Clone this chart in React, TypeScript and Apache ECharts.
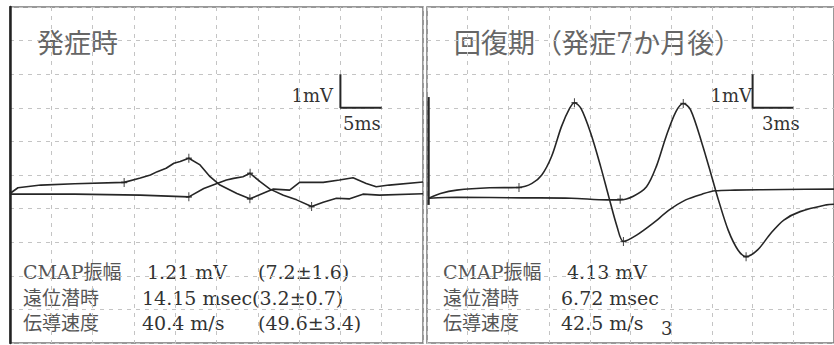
import React, { useEffect, useRef } from "react";
import * as echarts from "echarts";

// ---- Data (time in ms, amplitude in mV) ----
const leftTitle = "発症時";
const rightTitle = "回復期（発症7か月後）";

const leftDistal: [number, number][] = [
  [0, -0.55], [0.96, -0.38], [3.73, -0.3], [7.83, -0.26], [13.82, -0.22],
  [15.78, -0.09], [17.0, 0.0], [17.83, 0.1], [18.9, 0.2], [19.84, 0.35],
  [20.6, 0.4], [21.65, 0.5], [23.01, 0.3], [24.22, -0.05], [25.42, -0.3],
  [27.47, -0.55], [29.04, -0.71], [31.08, -0.5], [31.89, -0.42], [33.86, -0.45],
  [35.06, -0.22], [37.92, -0.22], [39.88, -0.15], [41.53, -0.08], [43.13, -0.25],
  [44.34, -0.35], [45.9, -0.3], [50, -0.21],
];
const leftProximal: [number, number][] = [
  [0, -0.57], [7.83, -0.57], [15.78, -0.6], [21.65, -0.65], [23.46, -0.4],
  [25.06, -0.25], [26.2, -0.15], [27.07, -0.1], [28.2, -0.05], [29.07, 0.05],
  [30.28, -0.2], [31.48, -0.42], [33.1, -0.6], [34.7, -0.74], [36.51, -0.94],
  [37.92, -0.81], [39.52, -0.69], [41.12, -0.71], [42.73, -0.57], [44.73, -0.6],
  [50, -0.56],
];
const leftMarks: [number, number][] = [
  [13.82, -0.22], [21.65, 0.5], [29.04, -0.71],
  [21.65, -0.65], [29.07, 0.05], [36.51, -0.94],
];

const rightDistal: [number, number][] = [
  [0.14, -0.69], [0.99, -0.55], [2.19, -0.45], [4.61, -0.38], [6.78, -0.37],
  [7.74, -0.25], [8.46, 0.0], [9.18, 0.55], [9.91, 1.44], [10.51, 1.98],
  [10.87, 2.15], [11.35, 1.98], [12.07, 1.24], [12.8, 0.25], [13.4, -0.65],
  [14.01, -1.54], [14.48, -1.98], [15.45, -1.79], [16.65, -1.44], [17.86, -1.04],
  [19.07, -0.74], [20.27, -0.57], [21.24, -0.47], [22.68, -0.45], [26.3, -0.43],
  [30, -0.42],
];
const rightProximal: [number, number][] = [
  [0.14, -0.69], [2.19, -0.66], [7.01, -0.68], [10.63, -0.69], [13.28, -0.74],
  [14.24, -0.74], [15.21, -0.63], [16.18, -0.35], [16.9, 0.25], [17.62, 1.14],
  [18.34, 1.88], [18.89, 2.13], [19.43, 1.94], [20.27, 0.94], [20.99, -0.05],
  [21.48, -0.74], [22.2, -1.64], [22.92, -2.23], [23.52, -2.43], [24.37, -2.23],
  [25.33, -1.74], [26.3, -1.34], [27.5, -1.09], [29.43, -0.89], [30, -0.87],
];
const rightArtifact: [number, number][] = [[0.12, 2.32], [0.12, -0.89]];
const rightMarks: [number, number][] = [
  [6.78, -0.37], [10.87, 2.15], [14.48, -1.98],
  [14.24, -0.72], [18.89, 2.13], [23.52, -2.43],
];

// scale bars: 1 mV vertical, 5 ms / 3 ms horizontal
const leftScaleBar: [number, number][] = [[40, 3], [40, 2], [45, 2]];
const rightScaleBar: [number, number][] = [[24, 3], [24, 2], [27, 2]];
const leftScaleLabels = ["1mV", "5ms"];
const rightScaleLabels = ["1mV", "3ms"];

const statLabels = ["CMAP振幅", "遠位潜時", "伝導速度"];
const leftStatValues = ["1.21 mV", "14.15 msec", "40.4 m/s"];
const leftStatNormals = ["(7.2±1.6)", "(3.2±0.7)", "(49.6±3.4)"];
const rightStatValues = ["4.13 mV", "6.72 msec", "42.5 m/s"];
const rightStatExtra = "3";

// ---- Styles / layout ----
const SERIF = "DejaVu Serif, Noto Sans CJK JP, serif";
const TRACE = "#262626";
const rowY = [272, 297.5, 323];
const leftValX = [147, 142, 142];
const leftNormX = [258, 252, 258];
const rightValX = [567, 561, 561];

function text(x: number, y: number, t: string, size: number, fill: string, align = "left", weight = "normal") {
  return {
    type: "text",
    x,
    y,
    silent: true,
    style: { text: t, fontSize: size, fontFamily: SERIF, fontWeight: weight, fill, align, verticalAlign: "middle" },
  };
}

const splitLine = { show: true, lineStyle: { color: "#c4c4c4", type: [4, 5], width: 1 } };

function xAxis(grid: number, max: number, interval: number) {
  return {
    type: "value", gridIndex: grid, min: 0, max, interval,
    axisLine: { show: false }, axisTick: { show: false }, axisLabel: { show: false },
    splitLine,
  };
}
function yAxis(grid: number, thick: boolean) {
  return {
    type: "value", gridIndex: grid, min: -5, max: 5, interval: 1,
    axisLine: { show: thick, lineStyle: { color: "#222", width: 2.5 } },
    axisTick: { show: false }, axisLabel: { show: false },
    splitLine,
  };
}
function line(data: [number, number][], idx: number, width = 1.6, smooth: number | boolean = false) {
  return {
    type: "line", data, xAxisIndex: idx, yAxisIndex: idx, symbol: "none", smooth,
    lineStyle: { color: TRACE, width }, silent: true, z: 3,
  };
}
function marks(data: [number, number][], idx: number) {
  return {
    type: "scatter", data, xAxisIndex: idx, yAxisIndex: idx,
    symbol: "path://M5 0 L5 10 M1 5 L9 5", symbolSize: [6, 9],
    itemStyle: { color: "none", borderColor: TRACE, borderWidth: 1.3 }, silent: true, z: 4,
  };
}

const option: any = {
  animation: false,
  backgroundColor: "#fff",
  grid: [
    { left: 10, top: 7, width: 413, height: 336, show: true, borderColor: "#777", borderWidth: 1.5 },
    { left: 427, top: 7, width: 415, height: 336, show: true, borderColor: "#777", borderWidth: 1.5 },
  ],
  xAxis: [xAxis(0, 50, 5), xAxis(1, 30, 3)],
  yAxis: [yAxis(0, true), yAxis(1, false)],
  series: [
    line(leftDistal, 0),
    line(leftProximal, 0),
    marks(leftMarks, 0),
    line(leftScaleBar, 0, 2),
    line(rightDistal, 1, 1.6, 0.3),
    line(rightProximal, 1, 1.6, 0.3),
    line(rightArtifact, 1, 2.2),
    marks(rightMarks, 1),
    line(rightScaleBar, 1, 2),
  ],
  graphic: [
    text(37, 43, leftTitle, 27, "#666"),
    text(454, 43, rightTitle, 27, "#666"),
    text(333, 95, leftScaleLabels[0], 18, "#333", "right"),
    text(343, 123, leftScaleLabels[1], 18, "#333"),
    text(752, 95, rightScaleLabels[0], 18, "#333", "right"),
    text(762, 123, rightScaleLabels[1], 18, "#333"),
    ...statLabels.map((t, i) => text(23, rowY[i], t, 19, "#555")),
    ...leftStatValues.map((t, i) => text(leftValX[i], rowY[i], t, 19, "#333")),
    ...leftStatNormals.map((t, i) => text(leftNormX[i], rowY[i], t, 19, "#333")),
    ...statLabels.map((t, i) => text(443, rowY[i], t, 19, "#555")),
    ...rightStatValues.map((t, i) => text(rightValX[i], rowY[i], t, 19, "#333")),
    text(661, 328, rightStatExtra, 18, "#333"),
  ],
};

export default function App() {
  const ref = useRef<HTMLDivElement>(null);
  useEffect(() => {
    const chart = echarts.init(ref.current!, null, { renderer: "svg" });
    chart.setOption(option);
    return () => chart.dispose();
  }, []);
  return (
    <div
      ref={ref}
      style={{ position: "fixed", left: 0, top: 0, width: 834, height: 345, background: "#fff" }}
    />
  );
}
